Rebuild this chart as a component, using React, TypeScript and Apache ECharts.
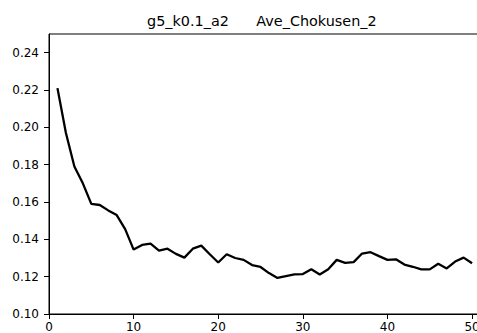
import React, { useEffect, useRef } from "react";
import * as echarts from "echarts";

const titleText = "g5_k0.1_a2      Ave_Chokusen_2";
const steps = [
  1, 2, 3, 4, 5, 6, 7, 8, 9, 10, 11, 12, 13, 14, 15, 16, 17, 18, 19, 20, 21, 22, 23, 24, 25,
  26, 27, 28, 29, 30, 31, 32, 33, 34, 35, 36, 37, 38, 39, 40, 41, 42, 43, 44, 45, 46, 47, 48, 49, 50,
];
const values = [
  0.221, 0.197, 0.179, 0.170, 0.159, 0.1584, 0.1555, 0.153, 0.1455, 0.1345,
  0.137, 0.1377, 0.134, 0.135, 0.1322, 0.1302, 0.135, 0.1366, 0.132, 0.1276,
  0.132, 0.130, 0.129, 0.1262, 0.1252, 0.1219, 0.1193, 0.1203, 0.1212, 0.1214,
  0.124, 0.1212, 0.124, 0.129, 0.1274, 0.1278, 0.1324, 0.1331, 0.131, 0.129,
  0.1293, 0.1265, 0.1253, 0.1239, 0.1239, 0.1269, 0.1244, 0.1281, 0.1302, 0.1272,
];
const xTicks = [0, 10, 20, 30, 40, 50];
const yTicks = [0.1, 0.12, 0.14, 0.16, 0.18, 0.2, 0.22, 0.24];

const FONT = "DejaVu Sans";

export default function App() {
  const ref = useRef<HTMLDivElement>(null);
  useEffect(() => {
    if (!ref.current) return;
    document.body.style.overflow = "hidden";
    const chart = echarts.init(ref.current, null, { renderer: "svg" });
    chart.setOption({
      animation: false,
      backgroundColor: "#fff",
      title: {
        text: titleText,
        left: 142,
        top: 9,
        textStyle: { fontFamily: FONT, fontSize: 14.4, fontWeight: "normal", color: "#000" },
      },
      grid: {
        left: 49,
        right: 11,
        top: 34,
        bottom: 19,
        show: true,
        borderColor: "#000",
        borderWidth: 1,
        backgroundColor: "transparent",
      },
      xAxis: {
        type: "value",
        min: 0,
        max: 52,
        axisLine: { show: true, onZero: false, lineStyle: { color: "#000", width: 1 } },
        axisTick: { show: true, length: 5, customValues: xTicks, lineStyle: { color: "#000" } },
        axisLabel: {
          customValues: xTicks,
          margin: 7,
          fontFamily: FONT,
          fontSize: 12,
          color: "#000",
        },
        splitLine: { show: false },
      },
      yAxis: {
        type: "value",
        min: 0.1,
        max: 0.25,
        axisLine: { show: true, onZero: false, lineStyle: { color: "#000", width: 1 } },
        axisTick: { show: true, length: 5, customValues: yTicks, lineStyle: { color: "#000" } },
        axisLabel: {
          customValues: yTicks,
          margin: 10,
          fontFamily: FONT,
          fontSize: 12,
          color: "#000",
          formatter: (v: number) => v.toFixed(2),
        },
        splitLine: { show: false },
      },
      series: [
        {
          type: "line",
          data: steps.map((s, i) => [s, values[i]]),
          showSymbol: false,
          lineStyle: { color: "#000", width: 2.3 },
          z: 3,
        },
      ],
    });
    return () => chart.dispose();
  }, []);
  return (
    <div
      ref={ref}
      style={{ position: "fixed", left: 0, top: 0, width: 500, height: 333, background: "#fff" }}
    />
  );
}
